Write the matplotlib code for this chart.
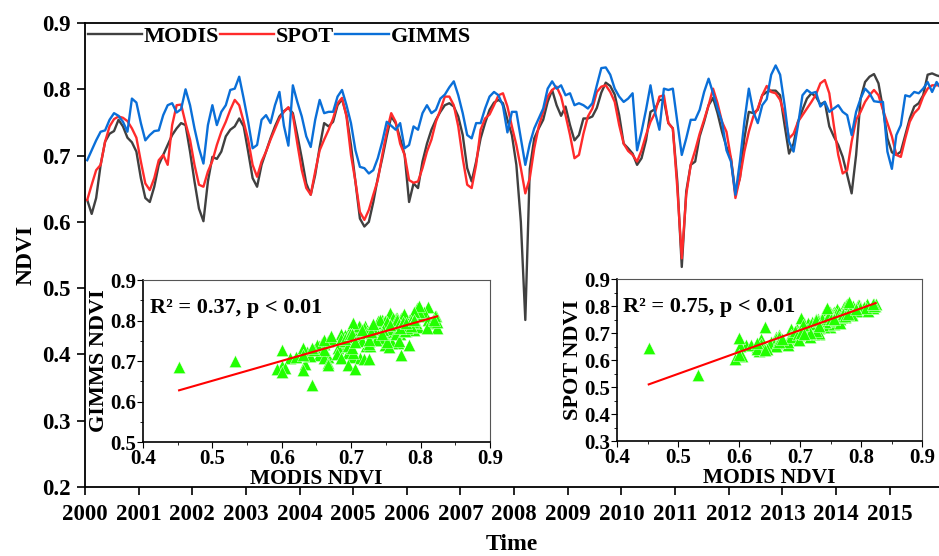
import matplotlib
matplotlib.use('Agg')
import matplotlib.pyplot as plt
from matplotlib.ticker import MultipleLocator
import numpy as np

plt.rcParams['font.family'] = ['Liberation Serif', 'DejaVu Serif']
plt.rcParams['font.weight'] = 'bold'
plt.rcParams['axes.labelweight'] = 'bold'

# monthly NDVI, 2000-2015, one row per year
modis = [
    [0.633, 0.612, 0.636, 0.686, 0.721, 0.733, 0.737, 0.754, 0.744, 0.727, 0.720, 0.706],
    [0.666, 0.636, 0.630, 0.653, 0.686, 0.701, 0.716, 0.731, 0.741, 0.749, 0.746, 0.706],
    [0.661, 0.620, 0.601, 0.661, 0.698, 0.695, 0.706, 0.729, 0.739, 0.744, 0.756, 0.744],
    [0.706, 0.666, 0.653, 0.686, 0.706, 0.726, 0.744, 0.759, 0.767, 0.772, 0.764, 0.731],
    [0.696, 0.658, 0.641, 0.671, 0.713, 0.749, 0.744, 0.751, 0.776, 0.785, 0.761, 0.716],
    [0.661, 0.605, 0.593, 0.600, 0.630, 0.666, 0.696, 0.729, 0.759, 0.749, 0.726, 0.701],
    [0.630, 0.658, 0.651, 0.691, 0.718, 0.739, 0.754, 0.766, 0.776, 0.779, 0.774, 0.759],
    [0.731, 0.681, 0.661, 0.691, 0.726, 0.749, 0.769, 0.780, 0.784, 0.779, 0.754, 0.731],
    [0.686, 0.600, 0.452, 0.680, 0.726, 0.741, 0.754, 0.781, 0.799, 0.776, 0.760, 0.774],
    [0.746, 0.723, 0.731, 0.756, 0.756, 0.759, 0.772, 0.795, 0.810, 0.805, 0.792, 0.761],
    [0.718, 0.711, 0.703, 0.686, 0.696, 0.723, 0.766, 0.770, 0.784, 0.784, 0.749, 0.741],
    [0.661, 0.532, 0.646, 0.686, 0.691, 0.729, 0.751, 0.776, 0.787, 0.764, 0.736, 0.713],
    [0.696, 0.643, 0.666, 0.726, 0.766, 0.764, 0.769, 0.791, 0.796, 0.798, 0.798, 0.791],
    [0.746, 0.703, 0.718, 0.751, 0.769, 0.786, 0.794, 0.789, 0.777, 0.781, 0.744, 0.729],
    [0.716, 0.698, 0.671, 0.643, 0.701, 0.786, 0.811, 0.819, 0.823, 0.809, 0.771, 0.726],
    [0.705, 0.701, 0.706, 0.731, 0.756, 0.774, 0.779, 0.791, 0.822, 0.824, 0.821, 0.819],
]
spot = [
    [0.633, 0.656, 0.678, 0.686, 0.721, 0.744, 0.755, 0.759, 0.757, 0.752, 0.741, 0.727],
    [0.691, 0.658, 0.648, 0.666, 0.693, 0.701, 0.686, 0.746, 0.776, 0.777, 0.749, 0.724],
    [0.686, 0.656, 0.653, 0.676, 0.692, 0.716, 0.736, 0.751, 0.769, 0.784, 0.776, 0.751],
    [0.724, 0.686, 0.668, 0.691, 0.706, 0.724, 0.740, 0.756, 0.766, 0.773, 0.761, 0.718],
    [0.678, 0.651, 0.641, 0.676, 0.708, 0.724, 0.739, 0.756, 0.779, 0.787, 0.759, 0.701],
    [0.661, 0.615, 0.603, 0.618, 0.641, 0.663, 0.701, 0.736, 0.764, 0.751, 0.718, 0.701],
    [0.663, 0.659, 0.661, 0.681, 0.706, 0.724, 0.751, 0.769, 0.789, 0.789, 0.776, 0.744],
    [0.696, 0.656, 0.651, 0.686, 0.739, 0.756, 0.762, 0.776, 0.791, 0.794, 0.774, 0.744],
    [0.716, 0.681, 0.643, 0.666, 0.711, 0.744, 0.766, 0.789, 0.799, 0.804, 0.789, 0.761],
    [0.731, 0.696, 0.701, 0.733, 0.759, 0.771, 0.796, 0.804, 0.806, 0.796, 0.781, 0.746],
    [0.718, 0.707, 0.701, 0.691, 0.708, 0.731, 0.751, 0.764, 0.789, 0.791, 0.749, 0.741],
    [0.651, 0.545, 0.641, 0.686, 0.708, 0.733, 0.754, 0.776, 0.801, 0.779, 0.751, 0.736],
    [0.696, 0.636, 0.666, 0.706, 0.736, 0.759, 0.771, 0.791, 0.805, 0.796, 0.794, 0.784],
    [0.761, 0.726, 0.733, 0.751, 0.761, 0.771, 0.781, 0.792, 0.809, 0.814, 0.794, 0.746],
    [0.701, 0.673, 0.678, 0.721, 0.754, 0.766, 0.781, 0.791, 0.799, 0.791, 0.769, 0.749],
    [0.729, 0.701, 0.698, 0.726, 0.751, 0.764, 0.771, 0.789, 0.801, 0.806, 0.806, 0.806],
]
gimms = [
    [0.693, 0.708, 0.723, 0.736, 0.738, 0.754, 0.764, 0.760, 0.751, 0.736, 0.786, 0.780],
    [0.749, 0.723, 0.731, 0.737, 0.738, 0.761, 0.776, 0.779, 0.765, 0.770, 0.800, 0.776],
    [0.741, 0.711, 0.688, 0.746, 0.776, 0.746, 0.766, 0.776, 0.799, 0.801, 0.819, 0.786],
    [0.751, 0.711, 0.716, 0.754, 0.761, 0.749, 0.776, 0.796, 0.745, 0.715, 0.806, 0.781],
    [0.759, 0.729, 0.713, 0.754, 0.784, 0.764, 0.766, 0.766, 0.789, 0.799, 0.776, 0.749],
    [0.708, 0.683, 0.681, 0.673, 0.678, 0.696, 0.721, 0.751, 0.745, 0.739, 0.749, 0.711],
    [0.716, 0.744, 0.739, 0.764, 0.776, 0.764, 0.769, 0.786, 0.792, 0.803, 0.812, 0.791],
    [0.764, 0.731, 0.726, 0.749, 0.749, 0.771, 0.789, 0.796, 0.791, 0.775, 0.735, 0.766],
    [0.766, 0.726, 0.686, 0.718, 0.741, 0.756, 0.771, 0.801, 0.812, 0.801, 0.806, 0.791],
    [0.794, 0.776, 0.779, 0.776, 0.771, 0.779, 0.806, 0.832, 0.833, 0.822, 0.801, 0.789],
    [0.781, 0.786, 0.794, 0.708, 0.736, 0.769, 0.806, 0.766, 0.739, 0.801, 0.799, 0.801],
    [0.751, 0.701, 0.726, 0.754, 0.754, 0.769, 0.796, 0.816, 0.794, 0.771, 0.751, 0.708],
    [0.691, 0.641, 0.691, 0.751, 0.801, 0.766, 0.749, 0.776, 0.785, 0.822, 0.836, 0.822],
    [0.776, 0.721, 0.706, 0.746, 0.791, 0.799, 0.794, 0.796, 0.774, 0.781, 0.766, 0.771],
    [0.776, 0.766, 0.761, 0.731, 0.766, 0.786, 0.801, 0.794, 0.782, 0.781, 0.781, 0.706],
    [0.680, 0.731, 0.746, 0.791, 0.789, 0.796, 0.794, 0.801, 0.811, 0.796, 0.811, 0.801],
]
years = list(range(2000, 2016))

modis = np.array(modis).ravel()
spot = np.array(spot).ravel()
gimms = np.array(gimms).ravel()
t = 2000 + (np.arange(len(modis)) + 0.5) / 12

fig = plt.figure(figsize=(9.39, 5.56), dpi=100)
ax = fig.add_axes([0.0905, 0.1241, 0.9095, 0.8345])

ax.plot(t, modis, color='#404040', lw=1.7, label='MODIS')
ax.plot(t, spot, color='#ff2b2b', lw=1.7, label='SPOT')
ax.plot(t, gimms, color='#0a6fd8', lw=1.7, label='GIMMS')

ax.set_xlim(2000, 2015.92)
ax.set_ylim(0.2, 0.9)
ax.set_xticks(years)
ax.set_xticklabels([str(y) for y in years])
ax.yaxis.set_major_locator(MultipleLocator(0.1))
ax.tick_params(axis='both', direction='out', length=6, width=1.2, labelsize=16.5)
ax.tick_params(axis='x', pad=6)
ax.tick_params(axis='y', pad=4)
ax.spines['right'].set_visible(False)
for s in ['left', 'bottom', 'top']:
    ax.spines[s].set_linewidth(1.3)
ax.set_xlabel('Time', fontsize=17, fontweight='bold', labelpad=7)
ax.set_ylabel('NDVI', fontsize=17, fontweight='bold', labelpad=4)

ax.legend(loc='upper left', bbox_to_anchor=(0.0, 1.0), ncol=3, frameon=False,
          borderaxespad=0.0, borderpad=0.15, handlelength=2.4, handletextpad=0.1,
          columnspacing=0.05, prop={'size': 16, 'weight': 'bold'})


def inset(rect, y, ylabel, ylim, txt):
    a = fig.add_axes(rect)
    a.scatter(modis, y, marker='^', s=78, color='#22ff00',
              edgecolors='white', linewidths=0.3, zorder=2)
    k, b = np.polyfit(modis, y, 1)
    xs = np.array([modis.min(), modis.max()])
    a.plot(xs, k * xs + b, color='#ff0000', lw=1.5, zorder=3)
    a.set_xlim(0.4, 0.9)
    a.set_ylim(*ylim)
    a.xaxis.set_major_locator(MultipleLocator(0.1))
    a.xaxis.set_minor_locator(MultipleLocator(0.05))
    a.yaxis.set_major_locator(MultipleLocator(0.1))
    a.yaxis.set_minor_locator(MultipleLocator(0.05))
    a.tick_params(which='major', direction='out', length=4, labelsize=15, pad=1)
    a.tick_params(which='minor', direction='out', length=2)
    a.spines['left'].set_linewidth(1.2)
    a.spines['bottom'].set_linewidth(1.2)
    a.spines['top'].set_color('#555555')
    a.spines['right'].set_color('#555555')
    a.spines['top'].set_linewidth(0.8)
    a.spines['right'].set_linewidth(0.8)
    a.set_xlabel('MODIS NDVI', fontsize=15.5, fontweight='bold', labelpad=0)
    a.set_ylabel(ylabel, fontsize=16, fontweight='bold', labelpad=1)
    a.text(0.02, 0.89, txt, transform=a.transAxes, fontsize=16,
           fontweight='bold', va='top', ha='left')
    return a


inset([0.1523, 0.205, 0.3695, 0.2914], gimms, 'GIMMS NDVI', (0.5, 0.9),
      'R² = 0.37, p < 0.01')
inset([0.6571, 0.2068, 0.3248, 0.2914], spot, 'SPOT NDVI', (0.3, 0.9),
      'R² = 0.75, p < 0.01')

fig.savefig('out.png', dpi=100)
